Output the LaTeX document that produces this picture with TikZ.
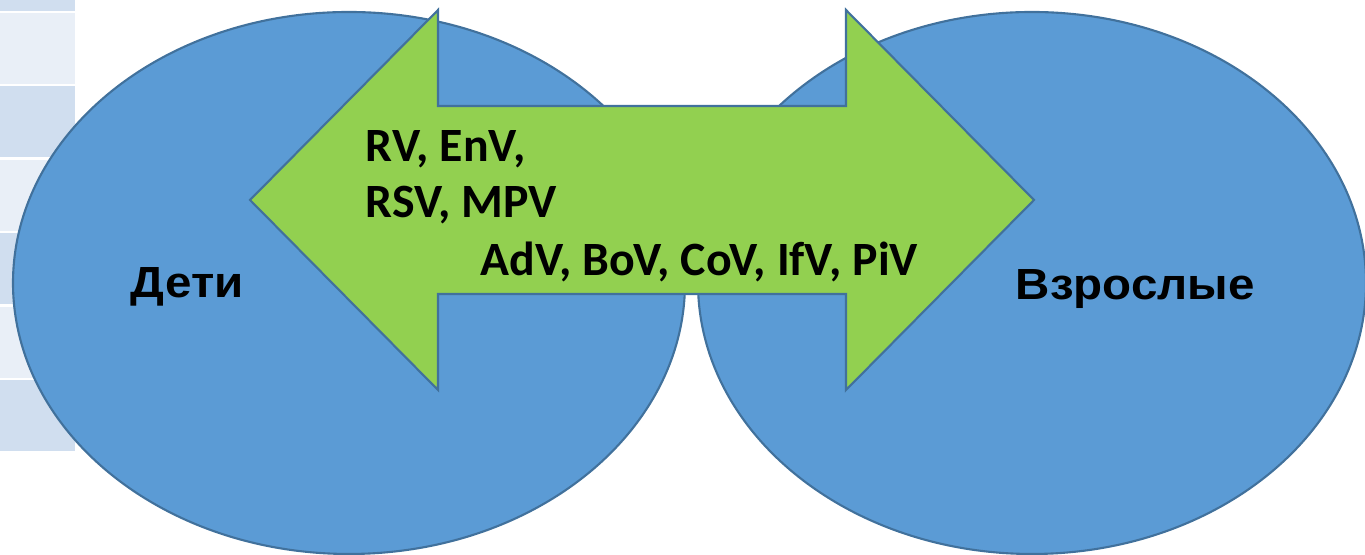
\documentclass[tikz,border=0pt]{standalone}
\usepackage{fontspec}
\setmainfont{Carlito}
\newfontfamily\labelfont{Liberation Sans}
\definecolor{circblue}{HTML}{5B9BD5}
\definecolor{edgeblue}{HTML}{41719C}
\definecolor{arrowgreen}{HTML}{92D050}
\definecolor{rowdark}{HTML}{D0DEEF}
\definecolor{rowlight}{HTML}{E9EFF7}
\tikzset{
  group/.style={fill=circblue, draw=edgeblue, line width=0.6pt},
  flow/.style={fill=arrowgreen, draw=edgeblue, line width=0.6pt},
  virus/.style={anchor=base west, inner sep=0pt, font=\fontsize{13.6}{15}\selectfont\bfseries},
  age/.style={anchor=base west, inner sep=0pt, xscale=1.09, font=\labelfont\fontsize{12.4}{14}\selectfont\bfseries}
}
\begin{document}
\begin{tikzpicture}
\useasboundingbox (0,0) rectangle (13.65,5.55);
\def\ymid{3.55}
\def\shaft{0.94}
\def\head{1.9}

% table rows behind
\foreach \i in {0,...,6}{
  \pgfmathsetmacro{\ytop}{5.55+0.604-0.734*\i}
  \pgfmathparse{int(mod(\i,2))}
  \ifnum\pgfmathresult=0 \def\rowcol{rowdark}\else \def\rowcol{rowlight}\fi
  \fill[\rowcol] (0,\ytop) rectangle (0.75,\ytop-0.71);
}

\draw[group] (3.49,2.72) ellipse[x radius=3.36, y radius=2.71];
\draw[group] (10.32,2.72) ellipse[x radius=3.34, y radius=2.71];

% double arrow
\draw[flow] (2.50,\ymid) -- (4.38,\ymid+\head) -- (4.38,\ymid+\shaft) -- (8.46,\ymid+\shaft)
  -- (8.46,\ymid+\head) -- (10.34,\ymid) -- (8.46,\ymid-\head) -- (8.46,\ymid-\shaft)
  -- (4.38,\ymid-\shaft) -- (4.38,\ymid-\head) -- cycle;

\node[virus] (row1) at (3.65,3.93) {RV, EnV,};
\node[virus] (row2) at (3.65,3.37) {RSV, MPV};
\node[virus] (row3) at (4.80,2.79) {AdV, BoV, CoV, IfV, PiV};

\node[age] (kids) at (1.30,2.57) {Дети};
\node[age] (adults) at (10.15,2.55) {Взрослые};

\end{tikzpicture}
\end{document}
